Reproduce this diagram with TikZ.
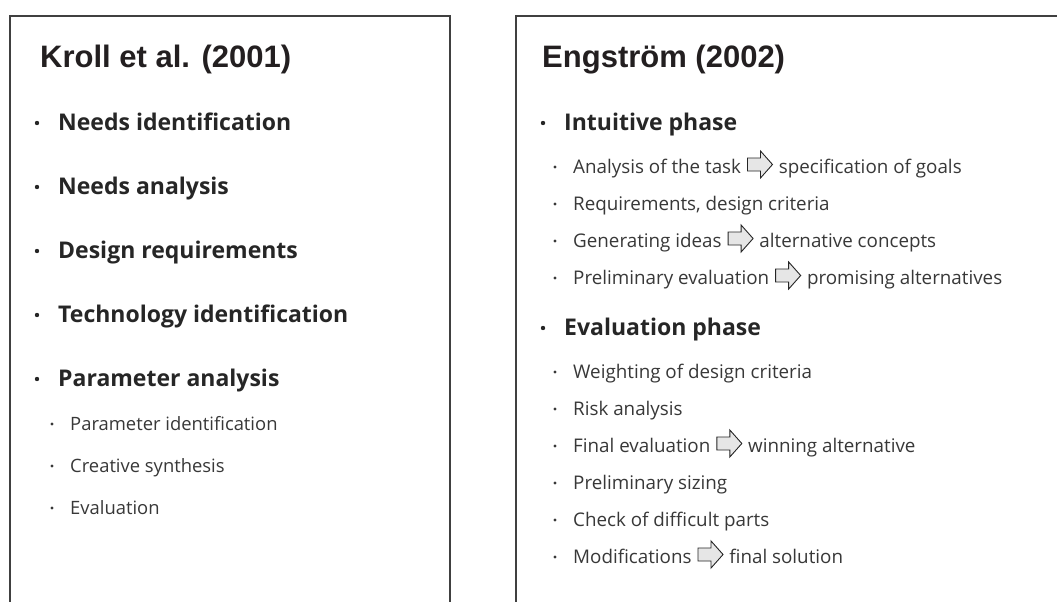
\documentclass[tikz,border=0pt]{standalone}
\usepackage{fontspec}
\setmainfont{Open Sans}
\newfontfamily\titlefont{Liberation Sans}
\definecolor{titlecol}{HTML}{231F20}
\definecolor{maincol}{HTML}{262626}
\definecolor{subcol}{HTML}{383838}
\definecolor{boxcol}{HTML}{404040}
\definecolor{arrowfill}{HTML}{E6E6E6}
\newcommand{\blkarrow}{\hspace{6pt}\tikz[baseline=0pt,x=1pt,y=1pt]\draw[draw=maincol,fill=arrowfill,line width=0.9pt,line join=miter] (0,2)--(13,2)--(13,-5)--(25,8.5)--(13,22)--(13,15)--(0,15)--cycle;\hspace{1pt}}
\tikzset{
  titlest/.style={anchor=base west, inner sep=0pt, text=titlecol, font=\titlefont\bfseries\fontsize{31}{37}\selectfont},
  mainst/.style={anchor=base west, inner sep=0pt, text=maincol, font=\bfseries\fontsize{23}{28}\selectfont},
  subst/.style={anchor=base west, inner sep=0pt, text=subcol, font=\fontsize{18.4}{22}\selectfont},
  subr/.style={subst, font=\fontsize{18.8}{22}\selectfont}
}
\tikzset{boxline/.style={draw=boxcol, line width=1.4pt}}
\newcommand{\mitem}[4]{\node[mainst] (#1) at (#2,#3) {#4};
  \fill[maincol] ([xshift=-21pt,yshift=7pt]#1.base west) circle (2.2pt);}
\newcommand{\sitem}[5][subst]{\node[#1] (#2) at (#3,#4) {#5};
  \fill[subcol] ([xshift=-18pt,yshift=6pt]#2.base west) circle (1.6pt);}
\begin{document}
\begin{tikzpicture}[x=1pt,y=-1pt]
\useasboundingbox (0,0) rectangle (1057,602);
\fill[white] (0,0) rectangle (1057,602);
% boxes
\draw[boxline] (10,602) |- (450,16) -- (450,602);
\draw[boxline] (516,602) |- (1057,16);
% left column
\node[titlest] (t1) at (40,67) {Kroll et al. (2001)};
\mitem{l1}{58}{130}{Needs identification}
\mitem{l2}{58}{194}{Needs analysis}
\mitem{l3}{58}{258}{Design requirements}
\mitem{l4}{58}{322}{Technology identification}
\mitem{l5}{58}{386}{Parameter analysis}
\sitem{l6}{70}{430}{Parameter identification}
\sitem{l7}{70}{472}{Creative synthesis}
\sitem{l8}{70}{514}{Evaluation}
% right column
\node[titlest] (t2) at (542,67) {Engström (2002)};
\mitem{r1}{564}{130}{Intuitive phase}
\sitem[subr]{r2}{573}{173}{Analysis of the task\blkarrow{} specification of goals}
\sitem[subr]{r3}{573}{210}{Requirements, design criteria}
\sitem[subr]{r4}{573}{247}{Generating ideas\blkarrow{} alternative concepts}
\sitem[subr]{r5}{573}{284}{Preliminary evaluation\blkarrow{} promising alternatives}
\mitem{r6}{564}{335}{Evaluation phase}
\sitem[subr]{r7}{573}{378}{Weighting of design criteria}
\sitem[subr]{r8}{573}{415}{Risk analysis}
\sitem[subr]{r9}{573}{452}{Final evaluation\blkarrow{} winning alternative}
\sitem[subr]{r10}{573}{489}{Preliminary sizing}
\sitem[subr]{r11}{573}{526}{Check of difficult parts}
\sitem[subr]{r12}{573}{563}{Modifications\blkarrow{} final solution}
\end{tikzpicture}
\end{document}
